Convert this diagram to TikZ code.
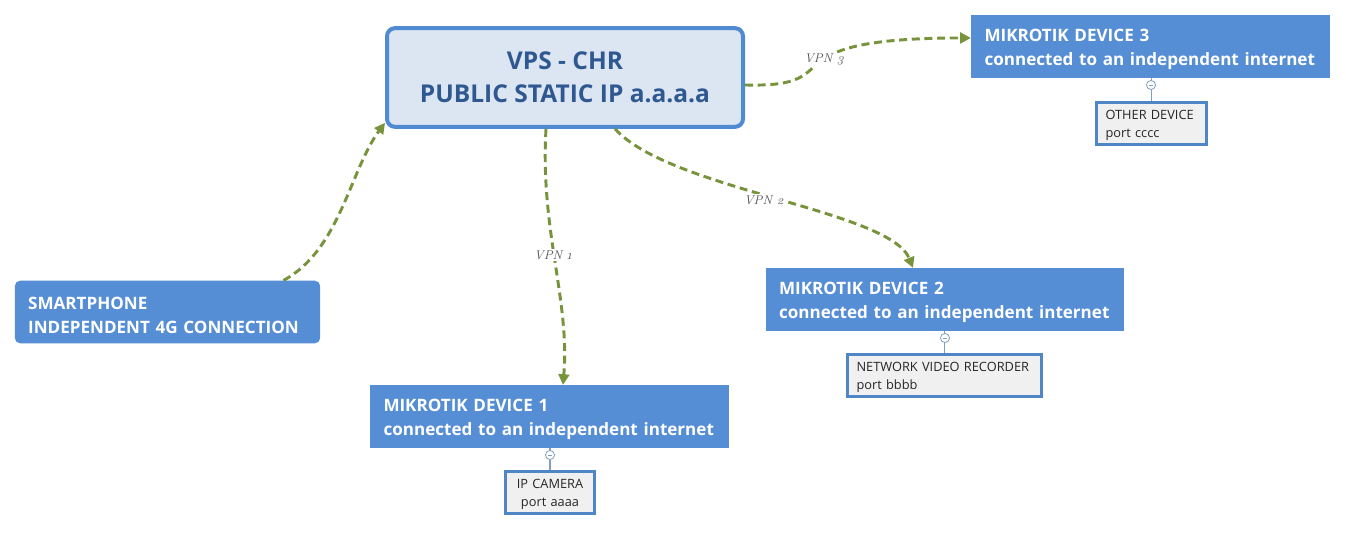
\documentclass[tikz,border=0pt]{standalone}
\usepackage{fontspec}
\setmainfont{Open Sans}
\newfontfamily\lblfont{Latin Modern Roman}
\usetikzlibrary{arrows.meta,calc}
\definecolor{boxblue}{RGB}{85,142,213}
\definecolor{vpsfill}{RGB}{220,230,242}
\definecolor{vpsborder}{RGB}{80,138,210}
\definecolor{vpstext}{RGB}{47,88,145}
\definecolor{vpngreen}{RGB}{119,147,60}
\definecolor{smallfill}{RGB}{240,240,240}
\definecolor{smallborder}{RGB}{79,134,198}
\definecolor{collgray}{RGB}{130,160,190}
\tikzset{
  px/.style={x=0.75pt,y=-0.75pt},
  vpsbox/.style={draw=vpsborder,line width=3pt,fill=vpsfill,rounded corners=6pt,
    minimum width=267pt,minimum height=74pt,align=center,text=vpstext,
    font=\fontsize{18.4pt}{25pt}\selectfont\bfseries},
  devbox/.style={fill=boxblue,minimum width=269pt,minimum height=47pt,inner xsep=10pt,
    text width=249pt,align=left,text=white,font=\fontsize{12.8pt}{18pt}\selectfont\bfseries,
    execute at begin node={\rule{0pt}{14pt}}},
  phonebox/.style={devbox,rounded corners=4pt,minimum width=229pt,text width=209pt},
  smallbox/.style={draw=smallborder,line width=2.2pt,fill=smallfill,minimum height=32pt,
    inner xsep=7pt,align=left,text=black!85,font=\fontsize{9.6pt}{13.2pt}\selectfont,
    execute at begin node={\rule{0pt}{10pt}}},
  vpn/.style={draw=vpngreen,line width=2.2pt,dash pattern=on 6pt off 3.5pt,
    -{Triangle[length=8pt,width=8pt]}},
  vpnlbl/.style={fill=white,inner sep=1pt,text=black!65,font=\lblfont\itshape\fontsize{9.5pt}{10pt}\selectfont},
  coll/.style={circle,draw=collgray,fill=white,line width=0.6pt,minimum size=6.8pt,inner sep=0pt},
  collline/.style={draw=collgray,line width=1pt}
}
\begin{document}
\begin{tikzpicture}[px]
\useasboundingbox (0,0) rectangle (1346,533);
% nodes
\node[vpsbox] (vps) at (565,77.5) {VPS - CHR\\PUBLIC STATIC IP a.a.a.a};
\node[devbox] (m3) at (1150.5,46.5) {MIKROTIK DEVICE 3\\connected to an independent internet};
\node[devbox] (m2) at (945,299.5) {MIKROTIK DEVICE 2\\connected to an independent internet};
\node[devbox] (m1) at (549.5,416.5) {MIKROTIK DEVICE 1\\connected to an independent internet};
\node[phonebox] (sp) at (167.5,312) {SMARTPHONE\\INDEPENDENT 4G CONNECTION};
\node[smallbox,minimum width=83pt,text width=69pt] (od) at (1151.5,123.5) {OTHER DEVICE\\port cccc};
\node[smallbox,minimum width=146pt,text width=132pt] (nvr) at (944.5,375.5) {NETWORK VIDEO RECORDER\\port bbbb};
\node[smallbox,minimum width=67pt,text width=56pt,inner xsep=5pt,align=center] (cam) at (550,492.5) {IP CAMERA\\port aaaa};
% collapse connectors
\draw[collline] (m3.south -| od.north) -- (od.north);
\node[coll] (c3) at (1151,85) {};
\draw[collline] (m2.south -| nvr.north) -- (nvr.north);
\node[coll] (c2) at (945,338) {};
\draw[collline] (m1.south -| cam.north) -- (cam.north);
\node[coll] (c1) at (550,455) {};
\foreach \c in {c1,c2,c3} {\draw[collgray,line width=0.5pt] ([xshift=-1.8pt]\c.center) -- ([xshift=1.8pt]\c.center);}
% VPN connectors
\draw[vpn] ([xshift=-27.75pt]sp.north east) .. controls (340,250) and (350,170) .. ([yshift=4.5pt]vps.south west);
\draw[vpn] ([xshift=-14.25pt]vps.south) .. controls (540,230) and (570,300) .. ([xshift=10.1pt]m1.north);
\draw[vpn] ([xshift=37.5pt]vps.south) .. controls (670,190) and (890,210) .. ([xshift=-24pt]m2.north);
\draw[vpn] ([yshift=-5.6pt]vps.east) .. controls (855,88) and (760,38) .. ([yshift=6.4pt]m3.west);
% labels
\node[vpnlbl] (l1) at (553,255) {VPN \oldstylenums{1}};
\node[vpnlbl] (l2) at (764,200) {VPN \oldstylenums{2}};
\node[vpnlbl] (l3) at (824,60) {VPN \oldstylenums{3}};
\end{tikzpicture}
\end{document}
